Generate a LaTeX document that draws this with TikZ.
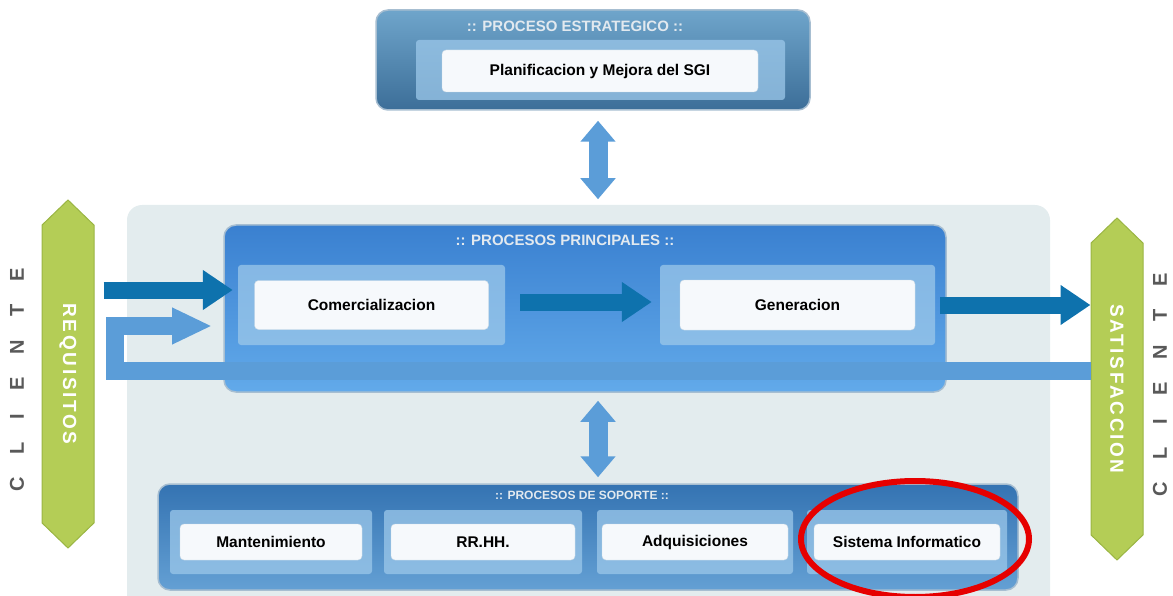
\documentclass[tikz,border=0pt]{standalone}
\usepackage{fontspec}
\setmainfont{Liberation Sans}
\usetikzlibrary{positioning,arrows.meta,shapes.geometric,shapes.symbols}

\begin{document}
\begin{tikzpicture}[x=1pt, y=-1pt, node distance=212pt]
    \definecolor{back-color}{HTML}{E3ECEE}
    \definecolor{strat-dark}{HTML}{3C6E98}
    \definecolor{strat-light}{HTML}{6FA5CB}
    \definecolor{main-dark}{HTML}{3A80D0}
    \definecolor{main-light}{HTML}{62AAEA}
    \definecolor{sup-dark}{HTML}{3473B2}
    \definecolor{sup-light}{HTML}{64A0D4}
    \definecolor{panel-color}{HTML}{9CC8EA}
    \definecolor{box-color}{HTML}{F6F9FC}
    \definecolor{flow-color}{HTML}{0E72AD}
    \definecolor{link-color}{HTML}{5B9DD8}
    \definecolor{client-color}{HTML}{B4CD56}
    \definecolor{client-edge}{HTML}{9AB543}
    \definecolor{letter-color}{HTML}{595959}
    \definecolor{mark-color}{HTML}{E60000}
    \tikzstyle{every node}=[font=\fontsize{15.5}{18}\selectfont\bfseries]
    \tikzstyle{stage} = [rectangle, rounded corners=12pt, draw=white!55!strat-dark, line width=1.5pt, inner sep=0pt]
    \tikzstyle{panel} = [rectangle, fill=panel-color, fill opacity=0.75, rounded corners=3pt, inner sep=0pt]
    \tikzstyle{proc} = [rectangle, draw=white!75!strat-dark, fill=box-color, rounded corners=4pt, text centered, inner sep=0pt]
    \tikzstyle{grouptitle} = [text=white!85!strat-dark, font=\fontsize{15}{18}\selectfont\bfseries]
    \tikzstyle{client} = [signal, signal to=east and west, signal pointer angle=92, rotate=-90, fill=client-color, draw=client-edge, line width=1pt, minimum height=52pt, text=white, font=\fontsize{19}{22}\selectfont\bfseries\addfontfeature{LetterSpace=14}, inner sep=0pt]
    \tikzstyle{letters} = [text=letter-color, font=\fontsize{20}{22}\selectfont\bfseries\addfontfeature{LetterSpace=115}, rotate=90]
    \tikzstyle{flowarrow} = [line width=17pt, draw=flow-color, -{Triangle[width=38pt, length=30pt]}]
    \tikzstyle{linkarrow} = [line width=19pt, draw=link-color, {Triangle[width=34pt, length=21pt]}-{Triangle[width=34pt, length=21pt]}]
    \tikzstyle{retro} = [line width=18pt, draw=link-color, line join=miter, -{Triangle[width=34pt, length=40pt]}]
    \useasboundingbox (0,0) rectangle (1173,596);
        \node (back) [rectangle, fill=back-color, rounded corners=15pt, minimum width=923pt, minimum height=415pt] at (588.5,412.5) {};
        % strategic
        \node (strat) [stage, top color=strat-light, bottom color=strat-dark, minimum width=434pt, minimum height=100pt] at (593,60) {};
        \node (stratT) [grouptitle] at (575,26) {:: PROCESO ESTRATEGICO ::};
        \node (stratP) [panel, minimum width=369pt, minimum height=60pt] at (600.5,70) {};
        \node (strat1) [proc, minimum width=316pt, minimum height=42pt] at (600,71) {Planificacion y Mejora del SGI};
        % main
        \node (main) [stage, top color=main-dark, bottom color=main-light, minimum width=722pt, minimum height=167pt] at (585,308.5) {};
        \node (mainT) [grouptitle] at (565,240) {:: PROCESOS PRINCIPALES ::};
        \node (comP) [panel, minimum width=267pt, minimum height=80pt] at (371.5,305) {};
        \node (genP) [panel, right of=comP, xshift=214pt, minimum width=275pt, minimum height=80pt] {};
        \node (com) [proc, minimum width=234pt, minimum height=49pt] at (comP) {Comercializacion};
        \node (gen) [proc, minimum width=235pt, minimum height=50pt] at (genP) {Generacion};
        % support
        \node (sup) [stage, top color=sup-dark, bottom color=sup-light, minimum width=860pt, minimum height=106pt] at (588,537) {};
        \node (supT) [grouptitle, font=\fontsize{12}{14}\selectfont\bfseries] at (582,495) {:: PROCESOS DE SOPORTE ::};
        \node (supP1) [panel, minimum width=202pt, minimum height=64pt] at (271,542) {};
        \node (supP2) [panel, right of=supP1, minimum width=198pt, minimum height=64pt] {};
        \node (supP3) [panel, right of=supP2, minimum width=196pt, minimum height=64pt] {};
        \node (supP4) [panel, right of=supP3, minimum width=200pt, minimum height=64pt] {};
        \node (sup1) [proc, minimum width=182pt, minimum height=36pt] at (supP1) {Mantenimiento};
        \node (sup2) [proc, minimum width=184pt, minimum height=36pt] at (supP2) {RR.HH.};
        \node (sup3) [proc, minimum width=186pt, minimum height=36pt] at (supP3) {Adquisiciones};
        \node (sup4) [proc, minimum width=186pt, minimum height=36pt] at (supP4) {Sistema Informatico};
        % client
        \node (req) [client, minimum width=348pt] at (68,374) {REQUISITOS};
        \node (sat) [client, minimum width=342pt] at (1117,389) {SATISFACCION};
        \node (cliL) [letters] at (17,380) {CLIENTE};
        \node (cliR) [letters] at (1160,385) {CLIENTE};
        % arrows
        \coordinate (turn1) at (115,371);
        \coordinate (turn2) at (115,326);
        \coordinate (turn3) at (212,326);
        \draw[retro] (sat.south |- turn1) -- (turn1) -- (turn2) -- (turn3);
        \draw[flowarrow] ([xshift=9pt,yshift=15pt]req.north |- comP.west) -- ([xshift=-5pt,yshift=15pt]comP.west);
        \draw[flowarrow] ([xshift=15pt,yshift=3pt]comP.east) -- ([xshift=-8pt,yshift=3pt]genP.west);
        \draw[flowarrow] ([xshift=5pt]genP.east) -- (sat.south |- genP.east);
        \draw[linkarrow] ([xshift=5pt,yshift=-10pt]strat.south) -- ([xshift=13pt,yshift=25pt]main.north);
        \draw[linkarrow] ([xshift=13pt,yshift=-8pt]main.south) -- ([xshift=10pt,yshift=6pt]sup.north);
        \node (mark) [ellipse, draw=mark-color, line width=6pt, minimum width=228pt, minimum height=116pt] at ([xshift=8pt,yshift=3pt]sup4) {};
\end{tikzpicture}
\end{document}
